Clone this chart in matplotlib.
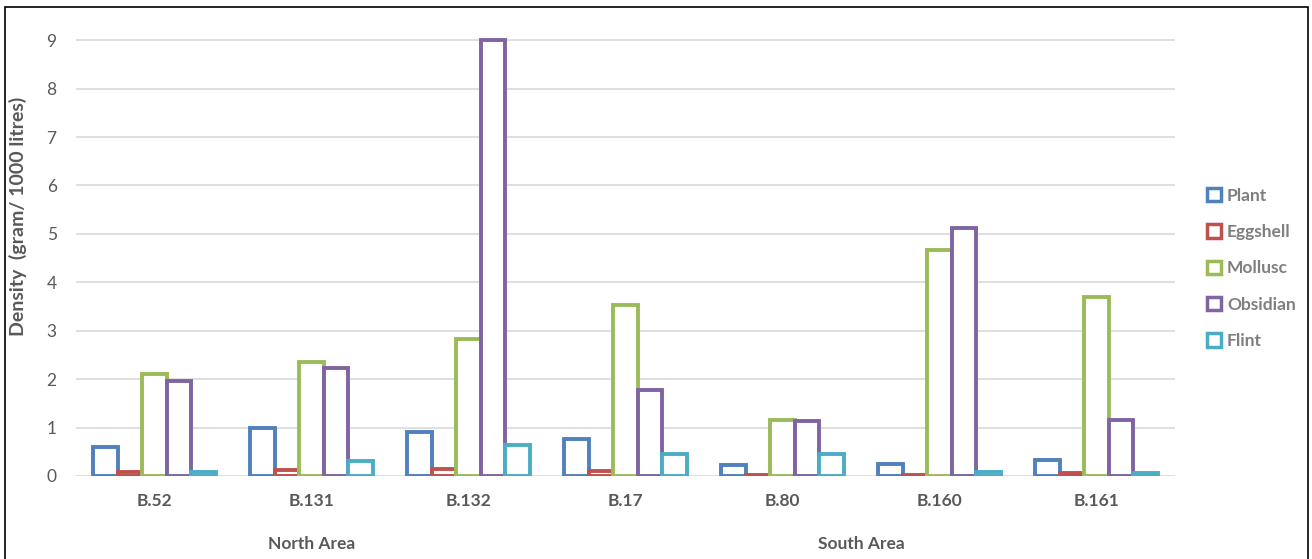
import matplotlib.pyplot as plt
import numpy as np
from matplotlib.patches import Patch, Rectangle

plt.rcParams['font.family'] = ['Lato', 'DejaVu Sans']

# data
features = ['B.52', 'B.131', 'B.132', 'B.17', 'B.80', 'B.160', 'B.161']
areas = ['North Area', 'South Area']
area_sizes = [3, 4]
materials = ['Plant', 'Eggshell', 'Mollusc', 'Obsidian', 'Flint']
plant    = [0.59, 1.00, 0.90, 0.77, 0.22, 0.25, 0.34]
eggshell = [0.08, 0.12, 0.15, 0.10, 0.03, 0.03, 0.06]
mollusc  = [2.10, 2.35, 2.83, 3.53, 1.15, 4.67, 3.70]
obsidian = [1.97, 2.24, 9.00, 1.78, 1.13, 5.13, 1.15]
flint    = [0.08, 0.30, 0.63, 0.46, 0.46, 0.08, 0.06]
series = [plant, eggshell, mollusc, obsidian, flint]
colors = ['#4F81BD', '#C0504D', '#9BBB59', '#8064A2', '#4BACC6']

grey = '#595959'

fig = plt.figure(figsize=(13.12, 5.59), dpi=100)
ax = fig.add_axes([0.058, 0.1485, 0.8375, 0.797])

x = np.arange(len(features))
w = 0.156
for i, (vals, c) in enumerate(zip(series, colors)):
    ax.bar(x + (i - 2) * w, vals, w, facecolor='white', edgecolor=c,
           linewidth=2.8, zorder=3)

ax.set_xlim(-0.5, len(features) - 0.5)
ax.set_ylim(0, 9.2)
ax.set_yticks(range(10))
ax.yaxis.grid(True, color='#d9d9d9', linewidth=1.2)
ax.set_axisbelow(True)
for s in ax.spines.values():
    s.set_visible(False)
ax.tick_params(axis='both', length=0)
ax.tick_params(axis='y', labelsize=12.5, labelcolor=grey, pad=14)
ax.set_xticks(x)
ax.set_xticklabels(features, fontsize=12.5, fontweight='bold', color=grey)
ax.tick_params(axis='x', pad=12)
ax.set_ylabel('Density  (gram/ 1000 litres)', fontsize=14, fontweight='bold',
              color=grey, va='center')
ax.yaxis.set_label_coords(-0.053, 0.583)

# area labels under the category labels
start = 0
for name, n in zip(areas, area_sizes):
    if name == 'North Area':
        cx = start + 1
    else:
        cx = start + (n - 1) / 2
    ax.text(cx, -0.152, name, transform=ax.get_xaxis_transform(),
            ha='center', va='center', fontsize=12.5, fontweight='bold', color=grey)
    start += n

handles = [Patch(facecolor='white', edgecolor=c, linewidth=2.5) for c in colors]
leg = fig.legend(handles, materials, loc='center left',
                 bbox_to_anchor=(0.908, 0.52), frameon=False,
                 handlelength=0.8, handleheight=0.8, handletextpad=0.35,
                 labelspacing=1.17, prop={'size': 12.5, 'weight': 'bold'})
for t in leg.get_texts():
    t.set_color('#7f7f7f')

fig.patches.append(Rectangle((0.004, -0.01), 0.993, 0.998, transform=fig.transFigure,
                             fill=False, edgecolor='black', linewidth=1.2))

fig.savefig('out.png', dpi=100)
